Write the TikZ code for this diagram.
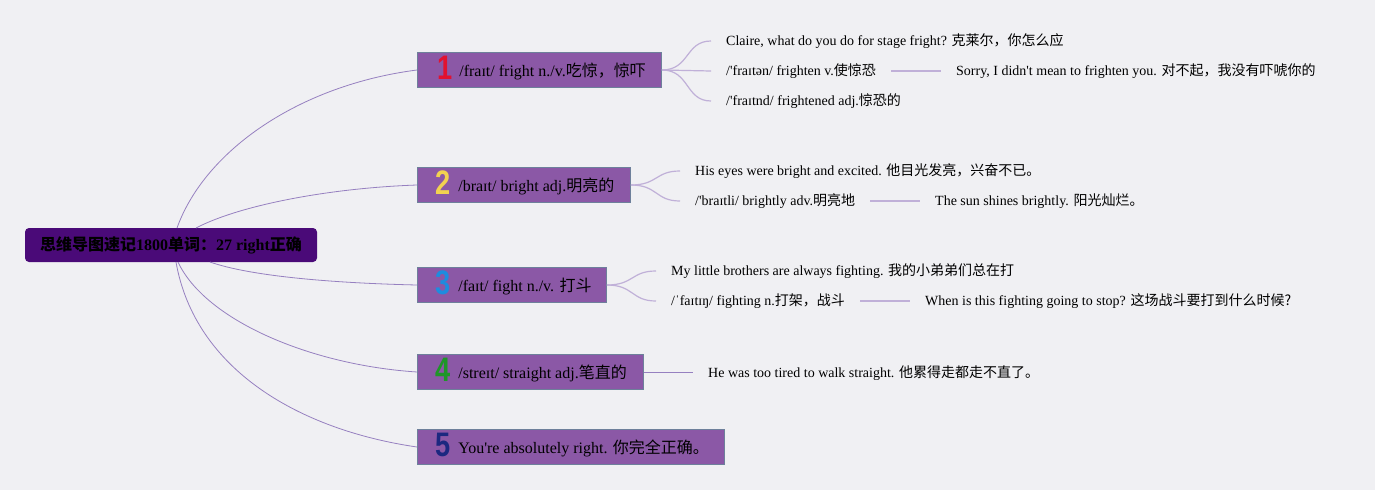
\documentclass[tikz,border=0pt]{standalone}
\usepackage{fontspec}
\usepackage{graphicx}
\setmainfont{Liberation Serif}
\newfontfamily\cjk{Noto Sans CJK SC}
\newfontfamily\numfont{Liberation Sans}
\newcommand\bignum[2]{\raisebox{-3pt}{\scalebox{0.8}[1]{\numfont\fontsize{34}{34}\selectfont\bfseries\textcolor{#1}{#2}}}}
\newcommand\q{\textquotesingle}
\definecolor{bg}{RGB}{240,240,243}
\definecolor{rootfill}{RGB}{74,10,120}
\definecolor{boxfill}{RGB}{139,88,166}
\definecolor{boxline}{RGB}{110,128,155}
\definecolor{rootline}{RGB}{150,128,192}
\definecolor{childline}{RGB}{192,176,216}
\definecolor{nred}{RGB}{226,18,48}
\definecolor{nyellow}{RGB}{242,210,80}
\definecolor{nblue}{RGB}{30,140,222}
\definecolor{ngreen}{RGB}{30,150,40}
\definecolor{nnavy}{RGB}{28,40,128}
\tikzset{
  rootbox/.style={draw=none, fill=rootfill, rounded corners=4pt, minimum width=292pt, minimum height=34pt, inner sep=0pt, font=\fontsize{16}{18}\selectfont\bfseries},
  mainbox/.style={draw=boxline, line width=0.8pt, fill=boxfill, minimum height=35pt, inner sep=0pt, anchor=west},
  boxtext/.style={anchor=base west, inner sep=0pt, font=\fontsize{16}{19}\selectfont},
  leaf/.style={anchor=west, inner xsep=15pt, inner ysep=2pt, font=\fontsize{14}{16}\selectfont},
  rootlink/.style={draw=rootline, line width=0.8pt},
  childlink/.style={draw=childline, line width=1.2pt}
}
\begin{document}
\begin{tikzpicture}[x=1pt,y=-1pt]
\fill[bg] (0,0) rectangle (1375,490);
\useasboundingbox (0,0) rectangle (1375,490);

% root
\node[rootbox] (root) at (171,245) {\cjk 思维导图速记\rmfamily 1800\cjk 单词：\rmfamily 27 right\cjk 正确};

% main boxes
\node[mainbox, minimum width=244pt] (b1) at (417,70) {};
\node[boxtext] (t1) at (437,76) {\bignum{nred}{1}\hspace{7pt}/fraɪt/ fright n./v.{\cjk 吃惊，惊吓}};
\node[mainbox, minimum width=213pt] (b2) at (417,185) {};
\node[boxtext] (t2) at (435,191) {\bignum{nyellow}{2}\hspace{8pt}/braɪt/ bright adj.{\cjk 明亮的}};
\node[mainbox, minimum width=189pt] (b3) at (417,285) {};
\node[boxtext] (t3) at (435,291) {\bignum{nblue}{3}\hspace{8pt}/faɪt/ fight n./v. {\cjk 打斗}};
\node[mainbox, minimum width=226pt] (b4) at (417,372) {};
\node[boxtext] (t4) at (435,378) {\bignum{ngreen}{4}\hspace{8pt}/streɪt/ straight adj.{\cjk 笔直的}};
\node[mainbox, minimum width=307pt] (b5) at (417,447) {};
\node[boxtext] (t5) at (435,453) {\bignum{nnavy}{5}\hspace{8pt}You\q re absolutely right. {\cjk 你完全正确。}};

% root links
\coordinate (r1) at (177,228);
\coordinate (r2) at (196,228);
\coordinate (r3) at (210,262);
\coordinate (r4) at (178,262);
\coordinate (r5) at (176,262);
\draw[rootlink] (r1) .. controls (205,150) and (300,85) .. (b1.west);
\draw[rootlink] (r2) .. controls (240,205) and (330,188) .. (b2.west);
\draw[rootlink] (r3) .. controls (250,276) and (330,283) .. (b3.west);
\draw[rootlink] (r4) .. controls (205,320) and (310,365) .. (b4.west);
\draw[rootlink] (r5) .. controls (195,370) and (300,430) .. (b5.west);

% branch 1 leaves
\node[leaf] (l11) at (711,41) {Claire, what do you do for stage fright? {\cjk 克莱尔，你怎么应}};
\node[leaf] (l12) at (711,71) {/\q fraɪtən/ frighten v.{\cjk 使惊恐}};
\node[leaf] (l13) at (711,101) {/\q fraɪtnd/ frightened adj.{\cjk 惊恐的}};
\node[leaf] (l121) at (941,71) {Sorry, I didn\q t mean to frighten you. {\cjk 对不起，我没有吓唬你的}};
\draw[childlink] (b1.east) .. controls (690,70) and (685,41) .. (l11.west);
\draw[childlink] (b1.east) -- (l12.west);
\draw[childlink] (b1.east) .. controls (690,70) and (685,101) .. (l13.west);
\draw[childlink] (l12.east) -- (l121.west);

% branch 2 leaves
\node[leaf] (l21) at (680,171) {His eyes were bright and excited. {\cjk 他目光发亮，兴奋不已。}};
\node[leaf] (l22) at (680,201) {/\q braɪtli/ brightly adv.{\cjk 明亮地}};
\node[leaf] (l221) at (920,201) {The sun shines brightly. {\cjk 阳光灿烂。}};
\draw[childlink] (b2.east) .. controls (658,185) and (655,171) .. (l21.west);
\draw[childlink] (b2.east) .. controls (658,185) and (655,201) .. (l22.west);
\draw[childlink] (l22.east) -- (l221.west);

% branch 3 leaves
\node[leaf] (l31) at (656,271) {My little brothers are always fighting. {\cjk 我的小弟弟们总在打}};
\node[leaf] (l32) at (656,301) {/ˈfaɪtɪŋ/ fighting n.{\cjk 打架，战斗}};
\node[leaf] (l321) at (910,301) {When is this fighting going to stop? {\cjk 这场战斗要打到什么时候?}};
\draw[childlink] (b3.east) .. controls (634,285) and (631,271) .. (l31.west);
\draw[childlink] (b3.east) .. controls (634,285) and (631,301) .. (l32.west);
\draw[childlink] (l32.east) -- (l321.west);

% branch 4 leaf
\node[leaf] (l41) at (693,373) {He was too tired to walk straight. {\cjk 他累得走都走不直了。}};
\draw[rootlink] (b4.east) -- (b4.east -| l41.west);
\end{tikzpicture}
\end{document}
